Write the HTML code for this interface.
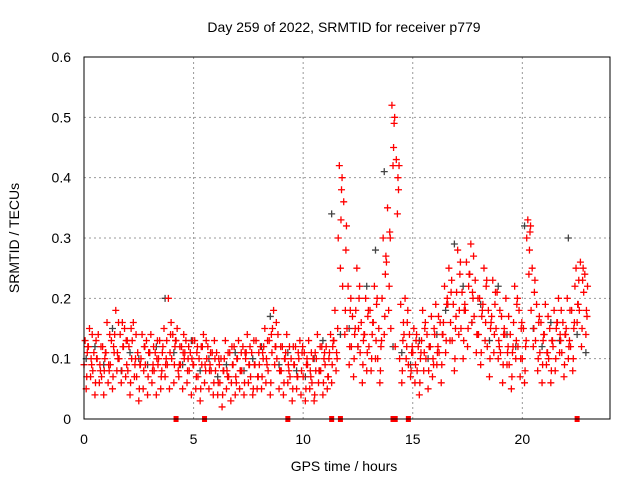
<!DOCTYPE html>
<html><head><meta charset="utf-8">
<style>
body{margin:0;background:#fff;}
svg{display:block;font-family:"Liberation Sans",sans-serif;}
</style></head>
<body>
<svg id="chart" width="640" height="480">
<text x="344" y="32" font-size="14" text-anchor="middle">Day 259 of 2022, SRMTID for receiver p779</text>
<text x="344" y="471" font-size="14" text-anchor="middle">GPS time / hours</text>
<text transform="translate(19,238) rotate(-90)" font-size="14" text-anchor="middle">SRMTID / TECUs</text>
<g id="grid"></g>
<g id="ticks"></g>
<g id="blackSeries"></g>
<g id="redSeries"></g>
<g id="gapMarks"></g>
<rect x="84" y="57" width="526" height="362" fill="none" stroke="#000" stroke-width="1"/>
</svg>
<script>
const xTicks=[0,5,10,15,20];
const yTicks=[0,0.1,0.2,0.3,0.4,0.5,0.6];
const yTickLabels=["0","0.1","0.2","0.3","0.4","0.5","0.6"];
const sampleStep=0.2;
const redA=[9,12,8,10,7,11,9,14,10,12,8,13,7,10,9,11,8,10,12,9,10,13,9,11,8,9,7,12,10,8,8,6,10,7,9,10,8,11,7,9,9,12,8,15,10,8,11,7,9,10,7,9,6,10,8,9,11,13,30,22,15,12,18,11,14,12,16,10,20,26,15,12,10,14,9,11,8,13,10,12,14,11,16,19,13,21,15,18,24,17,14,19,12,17,15,11,14,9,16,12,10,30,18,13,11,14,10,12,16,11,15,12,22,18,21];
const redB=[13,15,11,14,12,16,13,18,14,15,12,16,11,14,13,14,11,13,15,20,14,15,12,13,11,13,10,14,12,11,11,10,13,11,12,13,12,14,11,13,12,15,13,18,14,12,14,10,12,13,11,13,10,14,12,12,14,18,42,36,22,17,25,16,20,18,22,15,30,35,52,43,19,20,14,15,12,18,14,17,19,16,22,25,19,28,21,26,29,23,20,25,18,23,21,17,20,14,22,18,15,33,25,19,16,19,15,18,20,16,20,18,25,26,24];
const redC=[5,7,4,6,4,6,5,8,6,7,4,7,3,5,4,6,4,5,7,5,6,8,5,6,4,5,3,6,5,4,4,2,5,3,4,5,4,6,4,5,5,6,4,9,5,4,6,3,5,4,3,5,3,6,4,5,6,8,25,14,9,7,12,6,8,8,10,6,14,18,42,34,6,10,7,6,4,8,5,7,9,6,11,13,8,14,10,12,16,11,9,13,7,11,10,6,9,5,10,7,6,24,12,8,6,9,6,8,11,7,10,8,16,12,14];
const redD=[11,9,13,8,10,8,12,10,16,9,15,10,9,12,11,9,13,8,10,14,12,9,14,10,13,11,12,8,9,13,10,8,7,12,6,8,11,9,13,7,11,9,14,12,8,10,8,12,7,11,9,7,11,8,10,7,12,10,38,28,18,14,20,13,17,14,19,12,24,31,49,38,13,16,11,13,10,15,12,9,12,14,19,21,15,24,18,22,20,14,17,22,15,19,12,14,12,11,19,15,12,31,21,16,13,11,13,15,13,14,13,15,19,23,17];
const redE=[7,10,6,9,8,9,7,11,8,13,6,9,5,8,7,8,10,7,9,11,9,7,11,8,10,7,5,9,8,6,6,4,8,6,7,8,6,9,5,7,7,10,6,12,8,6,9,5,7,8,5,8,4,8,6,7,9,11,33,18,12,10,15,9,11,10,13,8,17,22,45,40,8,12,8,9,6,11,8,10,11,9,13,16,10,18,13,15,21,14,11,16,10,14,13,9,11,7,13,10,8,28,15,10,9,11,8,10,14,9,12,10,19,15,18];
const redF=[12,14,10,12,11,14,11,16,12,13,10,14,9,12,11,12,9,11,13,16,13,12,10,12,9,12,9,13,11,10,9,8,11,9,10,11,10,12,9,11,10,13,11,16,12,10,12,9,11,12,10,11,8,12,11,10,13,15,40,32,20,15,22,14,18,16,20,13,27,30,50,42,16,18,12,14,11,16,12,15,17,14,20,23,17,26,19,24,27,20,18,23,16,21,18,15,17,12,20,16,13,32,23,17,14,17,13,16,18,14,18,16,23,25,22];
const blackStep=0.4;
const blackVals=[10,12,9,15,8,11,10,9,12,20,11,9,13,8,10,7,9,11,8,10,12,17,9,11,8,7,10,13,34,14,15,12,22,28,41,12,11,9,13,10,14,18,29,22,16,19,13,22,14,12,32,15,12,16,13,30,14,11];
const gapTimes=[4.2,5.5,9.3,11.3,11.7,14.1,14.2,14.8,22.5];

const NS="http://www.w3.org/2000/svg";
const X0=84,X1=610,Y0=419,Y1=57,XMAX=24,YMAX=0.6;
function sx(t){return X0+t/XMAX*(X1-X0);}
function sy(v){return Y0-v/YMAX*(Y0-Y1);}
function mk(tag,attrs,parent){const e=document.createElementNS(NS,tag);for(const k in attrs)e.setAttribute(k,attrs[k]);parent.appendChild(e);return e;}
const grid=document.getElementById('grid'),ticks=document.getElementById('ticks');
xTicks.forEach(t=>{
  if(t>0){const l=mk('line',{x1:sx(t),x2:sx(t),y1:Y1,y2:Y0,stroke:'#999','stroke-dasharray':'2,3'},grid);
  
  }
  const tx=mk('text',{x:sx(t),y:444,'font-size':14,'text-anchor':'middle'},ticks);tx.textContent=t;
  
  
});
yTicks.forEach((v,i)=>{
  if(v>0&&v<YMAX){const l=mk('line',{x1:X0,x2:X1,y1:sy(v),y2:sy(v),stroke:'#999','stroke-dasharray':'2,3'},grid);
  
  }
  const tx=mk('text',{x:71,y:sy(v)+5,'font-size':14,'text-anchor':'end'},ticks);tx.textContent=yTickLabels[i];
  
  
});
function plus(g,t,v,col){
  const x=sx(t),y=sy(v);
  const p=mk('path',{d:`M${x-3.5},${y}h7M${x},${y-3.5}v7`,stroke:col,'stroke-width':1.3,fill:'none'},g);
  
  
}
const bg=document.getElementById('blackSeries');
blackVals.forEach((v,i)=>plus(bg,i*blackStep+0.1,v/100,'#444'));
const rg=document.getElementById('redSeries');
const redOffsets=[0,0.05,0.1,0.15,0.125,0.175];
[redA,redB,redC,redD,redE,redF].forEach((arr,k)=>arr.forEach((v,i)=>plus(rg,i*sampleStep+redOffsets[k],v/100,'#ff0000')));
const gg=document.getElementById('gapMarks');
gapTimes.forEach(t=>{
  const r=mk('rect',{x:sx(t)-2.5,y:Y0-3,width:5,height:6,fill:'#ff0000'},gg);
  
  
});
</script>
</body></html>
